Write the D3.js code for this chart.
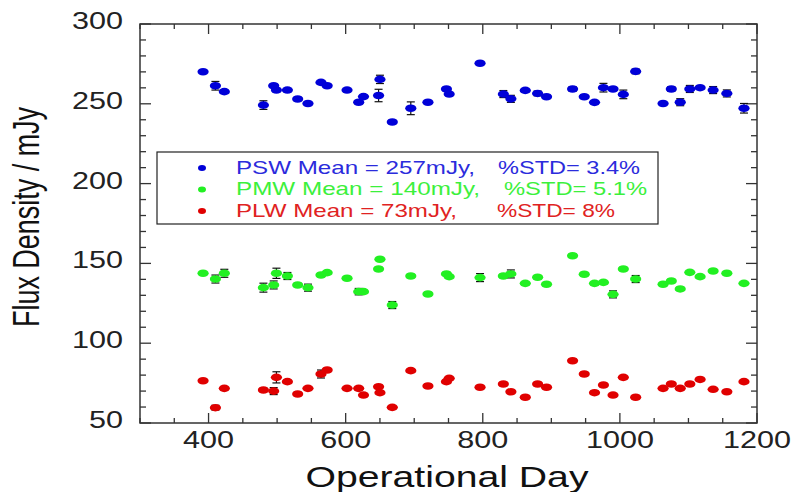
<!DOCTYPE html>
<html>
<head>
<meta charset="utf-8">
<script src="https://cdn.jsdelivr.net/npm/d3@7"></script>
<style>
  body { margin: 0; background: #fff; }
  svg { display: block; }
  text { font-family: Arial, "Liberation Sans", sans-serif; }
</style>
</head>
<body>
<svg id="chart" width="796" height="492"></svg>
<script>
// operational days shared by the three bands
const days = [392, 410, 423, 480, 495, 499, 515, 530, 545, 564, 573, 602, 619, 626, 648, 650, 668, 695, 720, 747, 751,
  796, 830, 841, 862, 880, 893, 931, 948, 963, 976, 990, 1005, 1023, 1063, 1075, 1088, 1102, 1117, 1136, 1156, 1181];

const psw = [270.1, 261.3, 257.6, 249.2, 261.3, 258.6, 258.6, 253, 250.2, 263.4, 261.3, 258.6, 251, 254.5, 255.2, 265.3, 238.6, 247.2, 251, 259.3, 256.1,
  275.4, 256.1, 253.1, 258.4, 256.5, 254.4, 259.3, 254.4, 250.9, 260.1, 259.3, 255.9, 270.3, 250.2, 259.3, 251, 259.3, 260.1, 258.6, 256.5, 247.2];
const pswErr = [1, 2.7, 1, 2.7, 1, 1, 1, 1, 1, 1, 1, 1, 1, 1, 3.9, 2.6, 1, 4, 1, 1, 1,
  1, 2.2, 2.2, 1, 1.5, 1, 1.5, 1, 1, 2.7, 1, 2.7, 1.5, 1, 1.5, 2.2, 2.2, 1, 2.2, 2.2, 3];

const pmw = [143.8, 140.2, 143.8, 134.8, 136.5, 143.8, 142.1, 136.5, 134.8, 142.7, 144.2, 140.7, 132.3, 132.3, 146.5, 152.6, 123.9, 142.1, 130.8, 143.4, 141.7,
  141.1, 142.1, 143.4, 137.5, 141.3, 136.9, 154.8, 143.2, 137.5, 138.1, 130.6, 146.5, 140.2, 136.9, 139, 134, 144.4, 141.7, 145.2, 143.8, 137.5];
const pmwErr = [1, 2.5, 2.5, 2.8, 2.5, 3.2, 2.2, 1, 2.2, 1, 1, 1, 2, 1, 1, 1, 2.2, 1, 1, 1, 1,
  2.5, 1, 2.5, 1, 1, 1, 1, 1, 1, 1, 2.2, 1, 2.2, 1, 1, 1, 1, 1, 1, 1, 1];

const plw = [76.5, 59.6, 71.7, 70.7, 70, 78.6, 75.9, 68.2, 71.7, 80.7, 83.2, 71.7, 71.7, 67.5, 72.7, 69, 59.8, 82.8, 73.2, 75.9, 78,
  72.4, 74.4, 69.6, 66.1, 74.4, 72.4, 89, 80.7, 69, 73.8, 67.5, 78.6, 66.1, 71.7, 74.4, 71.7, 74.4, 77.3, 71.1, 69.6, 75.9];
const plwErr = [1, 1.5, 1, 1, 2.2, 3.5, 1, 1, 1, 2.5, 1, 1, 1, 1, 1, 1, 1, 1, 1, 1, 1,
  1, 1, 1, 1, 1, 1, 1, 1, 1, 1, 1, 1, 1, 1, 1, 1, 1, 1, 1, 1, 1];

const xTickLabels = [400, 600, 800, 1000, 1200];
const yTickLabels = [50, 100, 150, 200, 250, 300];

const legendNames = ["PSW Mean = 257mJy,", "PMW Mean = 140mJy,", "PLW Mean = 73mJy,"];
const legendStd = ["%STD= 3.4%", "%STD= 5.1%", "%STD= 8%"];

const series = [
  {vals: psw, err: pswErr, color: "#0000d8", text: "#2b2bdc"},
  {vals: pmw, err: pmwErr, color: "#22f022", text: "#3cf03c"},
  {vals: plw, err: plwErr, color: "#e00000", text: "#e02222"}
];

const svg = d3.select("#chart");
const sx = 1.33; // the picture is drawn wider than tall

let minx = 140, maxx = 757, miny = 24, maxy = 423;

let xScale = d3.scaleLinear().domain([300, 1200]).range([minx, maxx]);
let yScale = d3.scaleLinear().domain([50, 300]).range([maxy, miny]);

const axisColor = "#333";

// minor + major ticks on all four sides, pointing inward
let xMinor = d3.range(300, 1201, 50);
let yMinor = d3.range(50, 301, 10);

let ticks = svg.append("g").attr("stroke", axisColor).attr("stroke-width", 1.3);
xMinor.forEach(v => {
  let len = (v % 200 == 0) ? 10 : 5;
  ticks.append("line").attr("x1", xScale(v)).attr("x2", xScale(v)).attr("y1", maxy).attr("y2", maxy - len);
  ticks.append("line").attr("x1", xScale(v)).attr("x2", xScale(v)).attr("y1", miny).attr("y2", miny + len);
});
yMinor.forEach(v => {
  let len = (v % 50 == 0) ? 11 : 6;
  ticks.append("line").attr("y1", yScale(v)).attr("y2", yScale(v)).attr("x1", minx).attr("x2", minx + len);
  ticks.append("line").attr("y1", yScale(v)).attr("y2", yScale(v)).attr("x1", maxx).attr("x2", maxx - len);
});

svg.append("rect")
  .attr("x", minx).attr("y", miny)
  .attr("width", maxx - minx).attr("height", maxy - miny)
  .attr("fill", "none").attr("stroke", axisColor).attr("stroke-width", 1.5);

// tick labels
xTickLabels.forEach(v => {
  svg.append("text")
    .attr("transform", `translate(${xScale(v)}, 448) scale(${sx}, 1)`)
    .attr("text-anchor", "middle")
    .attr("font-size", 23)
    .attr("fill", "#222")
    .text(v);
});
yTickLabels.forEach(v => {
  svg.append("text")
    .attr("transform", `translate(123, ${yScale(v) + 5}) scale(${sx}, 1)`)
    .attr("text-anchor", "end")
    .attr("font-size", 23)
    .attr("fill", "#222")
    .text(v);
});

// axis titles
svg.append("text")
  .attr("transform", `translate(447, 487)`)
  .attr("text-anchor", "middle")
  .attr("font-size", 30)
  .attr("textLength", 283)
  .attr("lengthAdjust", "spacingAndGlyphs")
  .attr("fill", "#111")
  .text("Operational Day");

svg.append("text")
  .attr("transform", `translate(39, 217) rotate(-90) scale(1, 1.35)`)
  .attr("text-anchor", "middle")
  .attr("font-size", 27)
  .attr("textLength", 220)
  .attr("lengthAdjust", "spacingAndGlyphs")
  .attr("fill", "#111")
  .text("Flux Density / mJy");

// error bars then markers
series.forEach(s => {
  let g = svg.append("g");
  days.forEach((d, i) => {
    let x = xScale(d);
    let y0 = yScale(s.vals[i] - s.err[i]);
    let y1 = yScale(s.vals[i] + s.err[i]);
    g.append("line").attr("x1", x).attr("x2", x).attr("y1", y0).attr("y2", y1)
      .attr("stroke", "#111").attr("stroke-width", 1.2);
    [y0, y1].forEach(yy => {
      g.append("line").attr("x1", x - 4).attr("x2", x + 4).attr("y1", yy).attr("y2", yy)
        .attr("stroke", "#111").attr("stroke-width", 1.2);
    });
  });
  g.selectAll("ellipse")
    .data(days)
    .enter()
    .append("ellipse")
    .attr("cx", d => xScale(d))
    .attr("cy", (d, i) => yScale(s.vals[i]))
    .attr("rx", 5.6)
    .attr("ry", 3.8)
    .attr("fill", s.color);
});

// legend
svg.append("rect")
  .attr("x", 157).attr("y", 152)
  .attr("width", 501).attr("height", 72)
  .attr("fill", "#fff").attr("stroke", "#222").attr("stroke-width", 1.2);

let legendBase = [173.5, 195, 216.5];
let nameLen = [239, 244, 221];
let stdX = [498, 504, 497];
let stdLen = [142, 143, 118];
series.forEach((s, i) => {
  svg.append("ellipse")
    .attr("cx", 202).attr("cy", legendBase[i] - 5.5)
    .attr("rx", 4).attr("ry", 3)
    .attr("fill", s.color);
  svg.append("text")
    .attr("x", 236).attr("y", legendBase[i])
    .attr("font-size", 18.5)
    .attr("textLength", nameLen[i])
    .attr("lengthAdjust", "spacingAndGlyphs")
    .attr("fill", s.text)
    .text(legendNames[i]);
  svg.append("text")
    .attr("x", stdX[i]).attr("y", legendBase[i])
    .attr("font-size", 18.5)
    .attr("textLength", stdLen[i])
    .attr("lengthAdjust", "spacingAndGlyphs")
    .attr("fill", s.text)
    .text(legendStd[i]);
});
</script>
</body>
</html>
